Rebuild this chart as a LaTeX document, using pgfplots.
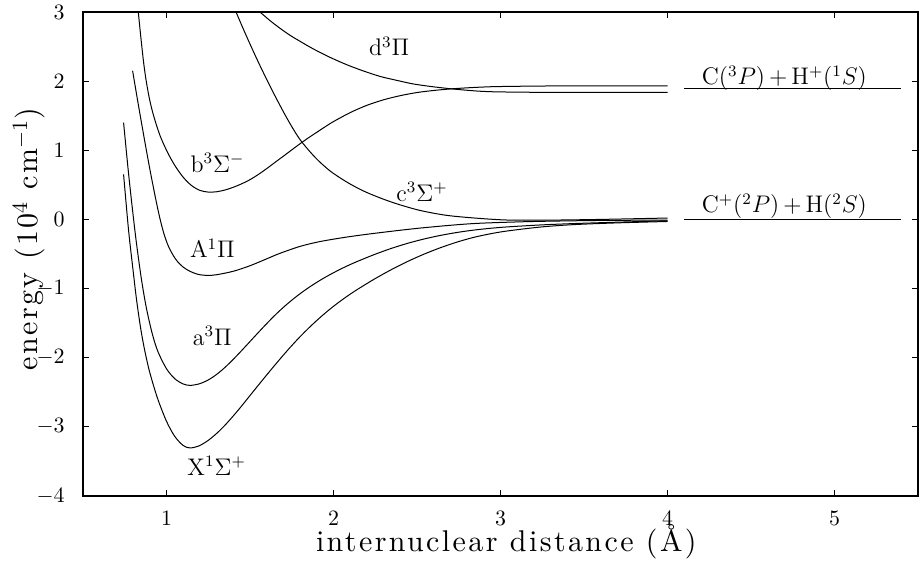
\documentclass[border=0pt]{standalone}
\usepackage{fontspec}
\usepackage{pgfplots}
\pgfplotsset{compat=1.18}

% Latin Modern with wide tracking for the axis titles
\newfontfamily\spacedfont{lmroman10-regular.otf}[LetterSpace=8]

\tikzset{state/.style={font=\fontsize{12}{14}\selectfont, inner sep=0pt}}

\begin{document}
\begin{tikzpicture}
\begin{axis}[
  name=main,
  scale only axis,
  width=417.5pt, height=242pt,
  xmin=0.5, xmax=5.5, ymin=-4, ymax=3,
  xtick={1,2,3,4,5}, ytick={-4,-3,-2,-1,0,1,2,3},
  tick align=inside, tick pos=both,
  major tick length=3pt,
  axis line style={line width=0.7pt},
  every tick/.style={black, line width=0.5pt},
  tick label style={font=\fontsize{10.5}{12}\selectfont, inner sep=0pt},
  xticklabel style={yshift=-7.5pt},
  yticklabel style={xshift=-9pt},
  xlabel={internuclear distance (Å)},
  xlabel style={font=\spacedfont\fontsize{15}{17}\selectfont, inner sep=0pt,
                at={(axis description cs:0.507,-0.1157)}, anchor=base},
  ylabel={energy (10$^4$ cm$^{-1}$)},
  ylabel style={font=\spacedfont\fontsize{15}{17}\selectfont, inner sep=0pt,
                at={(axis description cs:-0.0545,0.531)}, anchor=base},
  cycle list={{black, solid}},
  every axis plot/.append style={black, solid, line width=0.5pt, smooth, no markers},
]

% X 1Sigma+
\addplot coordinates {
 (0.743,0.65) (0.773,-0.16) (0.80,-0.74) (0.82,-1.15) (0.845,-1.57) (0.87,-1.90)
 (0.90,-2.215) (0.946,-2.585) (1.0,-2.92) (1.05,-3.14) (1.10,-3.27) (1.14,-3.305)
 (1.19,-3.28) (1.24,-3.2125) (1.29,-3.1175) (1.34,-3.0025) (1.39,-2.87)
 (1.44,-2.7275) (1.49,-2.5775) (1.54,-2.4275) (1.59,-2.279) (1.64,-2.133)
 (1.69,-1.9905) (1.74,-1.852) (1.79,-1.721) (1.84,-1.5985) (1.89,-1.4835)
 (1.94,-1.376) (1.99,-1.276) (2.04,-1.1835) (2.09,-1.0975) (2.14,-1.0175)
 (2.24,-0.8695) (2.34,-0.7345) (2.44,-0.6125) (2.54,-0.5045) (2.64,-0.4095)
 (2.74,-0.3275) (2.84,-0.2595) (2.94,-0.2075) (3.04,-0.1675) (3.24,-0.11)
 (3.44,-0.075) (3.7,-0.05) (4.0,-0.03)};

% a 3Pi
\addplot coordinates {
 (0.743,1.40) (0.77,0.73) (0.795,0.17) (0.82,-0.342) (0.85,-0.867) (0.88,-1.287)
 (0.916,-1.665) (0.95,-1.92) (1.0,-2.16) (1.05,-2.305) (1.10,-2.38) (1.14,-2.40)
 (1.19,-2.3825) (1.24,-2.335) (1.29,-2.26) (1.34,-2.1625) (1.39,-2.0475)
 (1.44,-1.9225) (1.49,-1.7925) (1.54,-1.6615) (1.59,-1.5325) (1.64,-1.4085)
 (1.69,-1.2935) (1.74,-1.1885) (1.79,-1.0925) (1.84,-1.005) (1.89,-0.925)
 (1.94,-0.8515) (1.99,-0.784) (2.04,-0.7215) (2.09,-0.664) (2.14,-0.6105)
 (2.24,-0.5125) (2.34,-0.4245) (2.44,-0.3485) (2.54,-0.2845) (2.64,-0.2315)
 (2.74,-0.1885) (2.84,-0.1545) (2.94,-0.1285) (3.04,-0.1085) (3.24,-0.08)
 (3.44,-0.06) (3.7,-0.04) (4.0,-0.02)};

% A 1Pi
\addplot coordinates {
 (0.797,2.15) (0.82,1.82) (0.845,1.47) (0.875,1.06) (0.904,0.68) (0.935,0.30)
 (0.96,0.02) (0.985,-0.21) (1.01,-0.38) (1.04,-0.52) (1.066,-0.61) (1.10,-0.69)
 (1.14,-0.75) (1.19,-0.795) (1.245,-0.81) (1.30,-0.80) (1.40,-0.75) (1.50,-0.67)
 (1.60,-0.57) (1.68,-0.49) (1.80,-0.39) (1.92,-0.32) (2.08,-0.255) (2.25,-0.20)
 (2.48,-0.135) (2.70,-0.085) (2.88,-0.055) (3.2,-0.03) (3.6,-0.015) (4.0,-0.01)};

% b 3Sigma-
\addplot coordinates {
 (0.826,3.12) (0.831,3.0) (0.847,2.62) (0.864,2.25) (0.88,1.98) (0.90,1.72)
 (0.924,1.49) (0.96,1.22) (1.004,0.98) (1.05,0.78) (1.10,0.61) (1.15,0.49)
 (1.20,0.42) (1.25,0.395) (1.30,0.40) (1.35,0.425) (1.40,0.465) (1.45,0.515)
 (1.50,0.575) (1.55,0.65) (1.60,0.735) (1.65,0.825) (1.70,0.915) (1.75,1.005)
 (1.80,1.095) (1.85,1.18) (1.90,1.26) (1.95,1.34) (2.00,1.415) (2.10,1.545)
 (2.20,1.65) (2.30,1.73) (2.40,1.79) (2.50,1.835) (2.60,1.865) (2.70,1.887)
 (2.80,1.903) (2.90,1.915) (3.0,1.922) (3.3,1.93) (3.7,1.93) (4.0,1.93)};

% c 3Sigma+
\addplot coordinates {
 (1.39,3.15) (1.418,2.99) (1.478,2.655) (1.544,2.305) (1.604,2.005) (1.663,1.725)
 (1.729,1.43) (1.801,1.15) (1.891,0.895) (1.980,0.70) (2.082,0.537)
 (2.178,0.413) (2.279,0.311) (2.381,0.224) (2.518,0.130) (2.680,0.058)
 (2.877,0.014) (3.056,-0.01) (3.3,-0.01) (3.6,0.0) (4.0,0.02)};

% d 3Pi
\addplot coordinates {
 (1.502,3.11) (1.562,2.994) (1.622,2.871) (1.681,2.762) (1.741,2.661)
 (1.801,2.574) (1.879,2.466) (1.980,2.343) (2.082,2.235) (2.178,2.148)
 (2.279,2.068) (2.381,2.010) (2.476,1.960) (2.578,1.924) (2.680,1.895)
 (2.775,1.873) (2.877,1.854) (2.996,1.844) (3.295,1.837) (3.6,1.837) (4.0,1.837)};

% dissociation limits
\addplot[sharp plot] coordinates {(4.10,1.895) (5.40,1.895)};
\addplot[sharp plot] coordinates {(4.10,0) (5.40,0)};

\node[state] at (axis cs:2.333,2.50) {d$^3\Pi$};
\node[state] at (axis cs:2.53,0.40) {c$^3\Sigma^+$};
\node[state] at (axis cs:1.305,0.82) {b$^3\Sigma^-$};
\node[state] at (axis cs:1.275,-0.42) {A$^1\Pi$};
\node[state] at (axis cs:1.275,-1.69) {a$^3\Pi$};
\node[state] at (axis cs:1.30,-3.56) {X$^1\Sigma^+$};
\node[state] at (axis cs:4.70,2.04) {C($^3P$)\,+\,H$^+$($^1S$)};
\node[state] at (axis cs:4.70,0.19) {C$^+$($^2P$)\,+\,H($^2S$)};
\end{axis}
\pgfresetboundingbox
\path[use as bounding box] ([shift={(-41.5pt,-32.5pt)}]main.south west) rectangle ([shift={(1.5pt,6pt)}]main.north east);
\end{tikzpicture}
\end{document}
